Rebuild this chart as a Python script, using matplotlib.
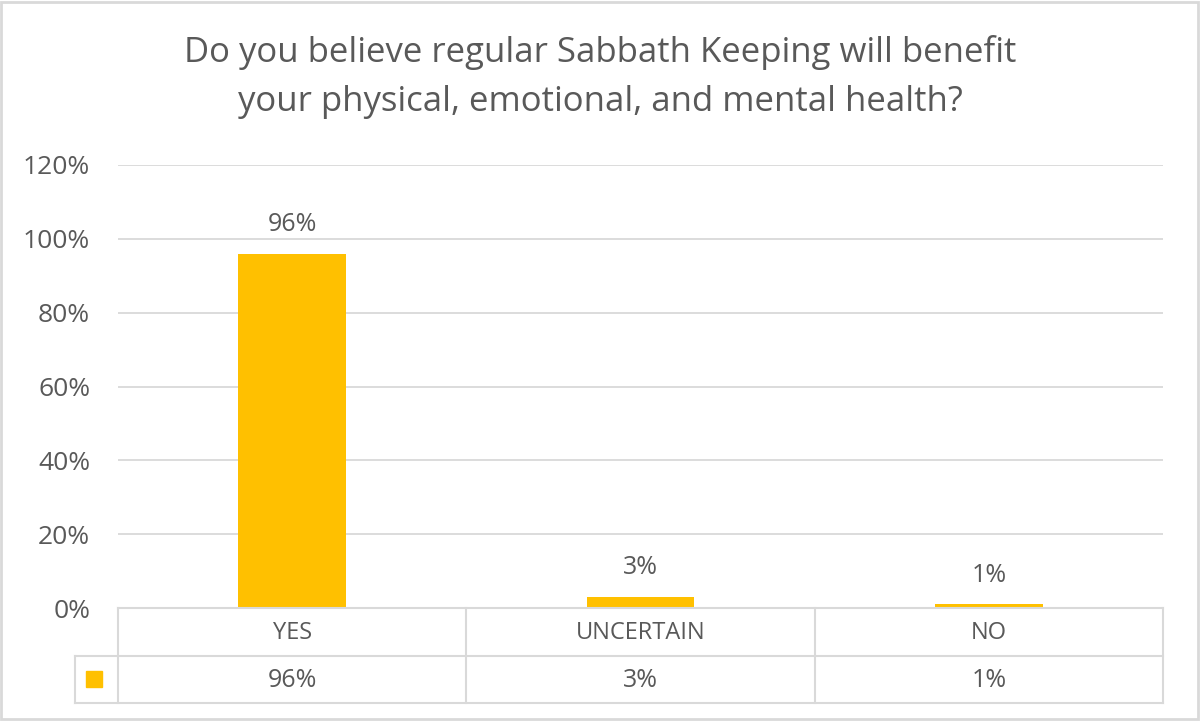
import matplotlib
matplotlib.use("Agg")
import matplotlib.pyplot as plt
from matplotlib.patches import Rectangle
from matplotlib.lines import Line2D
import matplotlib.transforms as mtransforms

categories = ["YES", "UNCERTAIN", "NO"]
values = [0.96, 0.03, 0.01]
value_labels = ["96%", "3%", "1%"]
yticks = [0, 0.2, 0.4, 0.6, 0.8, 1.0, 1.2]
ytick_labels = ["0%", "20%", "40%", "60%", "80%", "100%", "120%"]
title = "Do you believe regular Sabbath Keeping will benefit\nyour physical, emotional, and mental health?"

BAR = "#FFC000"
TXT = "#595959"
GRID = "#D9D9D9"
W, H = 1200, 721

plt.rcParams['font.family'] = ['Open Sans', 'DejaVu Sans']

fig = plt.figure(figsize=(W / 100, H / 100), dpi=100)
fig.patch.set_facecolor("white")

def fx(px):
    return px / W

def fy(py):
    return 1 - py / H

FS = 18
left, right, top, bottom = 118, 1163, 165, 608
ax = fig.add_axes([fx(left), fy(bottom), fx(right) - fx(left), fy(top) - fy(bottom)])
x = list(range(len(categories)))
ax.bar(x, values, width=0.31, color=BAR, zorder=3)
ax.set_xlim(-0.5, len(categories) - 0.5)
ax.set_ylim(0, 1.2)
ax.set_yticks(yticks)
ax.set_yticklabels(ytick_labels, color=TXT, fontsize=19)
ax.set_xticks([])
ax.tick_params(axis='y', length=0, pad=20)
for s in ax.spines.values():
    s.set_visible(False)
ax.yaxis.grid(True, color=GRID, linewidth=1.3, zorder=0)
ax.set_axisbelow(True)
for xi, v, lab in zip(x, values, value_labels):
    ax.annotate(lab, (xi, v), xytext=(0, 12), textcoords="offset points",
                ha="center", va="bottom", fontsize=FS, color=TXT)

fig.text(0.5, fy(77), title, ha="center", va="center", fontsize=25,
         color=TXT, linespacing=1.58)

# data table
row1_top, row_mid, row_bot = 608, 656, 703
leg_left = 75
lw = 1.5
trans = fig.transFigure
def hline(y, x0, x1):
    fig.add_artist(Line2D([fx(x0), fx(x1)], [fy(y), fy(y)], color=GRID, lw=lw, transform=trans))
def vline(xp, y0, y1):
    fig.add_artist(Line2D([fx(xp), fx(xp)], [fy(y0), fy(y1)], color=GRID, lw=lw, transform=trans))

hline(row1_top, left, right)
hline(row_mid, leg_left, right)
hline(row_bot, leg_left, right)
vline(leg_left, row_mid, row_bot)
ncat = len(categories)
colw = (right - left) / ncat
for i in range(ncat + 1):
    vline(left + i * colw, row1_top, row_bot)

blend = mtransforms.blended_transform_factory(ax.transData, fig.transFigure)
for xi, cat, lab in zip(x, categories, value_labels):
    fig.text(xi, fy((row1_top + row_mid) / 2 + 1), cat, transform=blend, ha="center",
             va="center", fontsize=17, color=TXT)
    fig.text(xi, fy((row_mid + row_bot) / 2 + 1), lab, transform=blend, ha="center",
             va="center", fontsize=FS, color=TXT)

fig.add_artist(Rectangle((fx(86), fy(687)), fx(16), 16 / H, color=BAR, transform=trans))

# outer frame
fig.add_artist(Rectangle((fx(1), fy(719)), fx(1197), 717 / H, fill=False,
                         edgecolor=GRID, lw=2, transform=trans))

fig.savefig("out.png", dpi=100)
